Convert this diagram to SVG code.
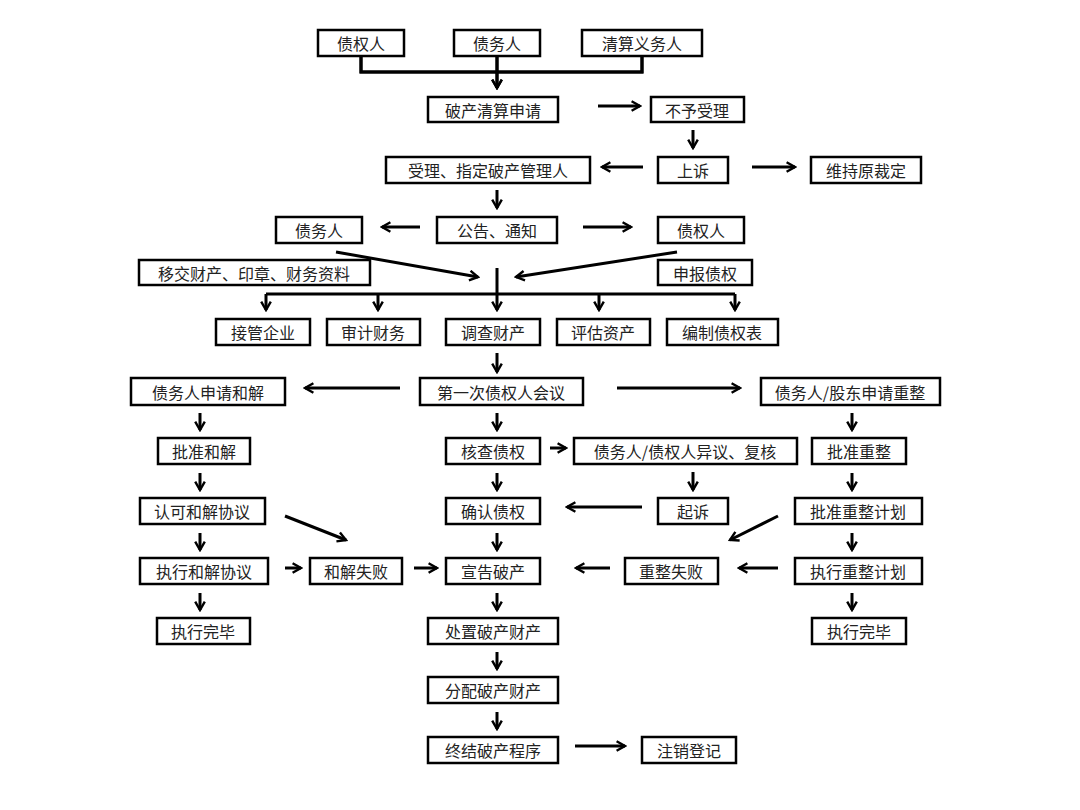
<svg xmlns="http://www.w3.org/2000/svg" width="1080" height="810" viewBox="0 0 1080 810">
<style>
.b rect{fill:#fff;stroke:#000;stroke-width:2.5}
.b text{font-family:"Noto Sans CJK SC",sans-serif;font-size:16px;fill:#222;text-anchor:middle;dominant-baseline:central}
#c path{fill:none;stroke:#000;stroke-width:3}
#c .a{marker-end:url(#m)}
</style>
<defs>
<marker id="m" viewBox="0 0 10 10" refX="8" refY="5" markerWidth="4" markerHeight="4" orient="auto" markerUnits="strokeWidth">
<path d="M1,1 L8,5 L1,9" fill="none" stroke="#000" stroke-width="2"/>
</marker>
</defs>
<rect width="1080" height="810" fill="#fff"/>
<g id="c">
<path d="M361,56V72H642V56M497,56V88" class="a"/>
<path d="M361,56V72H642V56"/>
<path class="a" d="M497,56V88"/>
<path class="a" d="M598,106H640"/>
<path class="a" d="M693,130V148"/>
<path class="a" d="M643,167H602"/>
<path class="a" d="M752,167H795"/>
<path class="a" d="M497,190V208"/>
<path class="a" d="M420,227H382"/>
<path class="a" d="M583,227H631"/>
<path class="a" d="M336,252L478,277"/>
<path class="a" d="M677,252L516,277"/>
<path d="M497,268V294M266,294H735"/>
<path class="a" d="M266,294V310"/>
<path class="a" d="M378,294V310"/>
<path class="a" d="M497,294V310"/>
<path class="a" d="M599,294V310"/>
<path class="a" d="M735,294V310"/>
<path class="a" d="M497,353V372"/>
<path class="a" d="M400,388H305"/>
<path class="a" d="M617,388H740"/>
<path class="a" d="M200,413V430"/>
<path class="a" d="M200,473V490"/>
<path class="a" d="M200,533V550"/>
<path class="a" d="M200,593V610"/>
<path class="a" d="M497,413V430"/>
<path class="a" d="M497,473V490"/>
<path class="a" d="M497,533V550"/>
<path class="a" d="M497,593V610"/>
<path class="a" d="M497,652V669"/>
<path class="a" d="M497,712V729"/>
<path class="a" d="M852,413V430"/>
<path class="a" d="M852,473V490"/>
<path class="a" d="M852,533V550"/>
<path class="a" d="M852,593V610"/>
<path class="a" d="M550,448H566"/>
<path class="a" d="M693,472V490"/>
<path class="a" d="M642,507H567"/>
<path class="a" d="M285,568H301"/>
<path class="a" d="M285,516L346,540"/>
<path class="a" d="M414,568H437"/>
<path class="a" d="M778,516L730,540"/>
<path class="a" d="M778,568H739"/>
<path class="a" d="M610,568H576"/>
<path class="a" d="M575,746H625"/>
</g>
<g class="b">
<g id="n1"><rect x="318" y="30" width="86" height="26"/><text x="361" y="43">债权人</text></g>
<g id="n2"><rect x="454" y="30" width="86" height="26"/><text x="497" y="43">债务人</text></g>
<g id="n3"><rect x="582" y="30" width="120" height="26"/><text x="642" y="43">清算义务人</text></g>
<g id="n4"><rect x="428" y="97" width="130" height="25"/><text x="493" y="110">破产清算申请</text></g>
<g id="n5"><rect x="651" y="97" width="93" height="25"/><text x="697" y="110">不予受理</text></g>
<g id="n6"><rect x="386" y="157" width="204" height="26"/><text x="488" y="170">受理、指定破产管理人</text></g>
<g id="n7"><rect x="658" y="157" width="70" height="26"/><text x="693" y="170">上诉</text></g>
<g id="n8"><rect x="811" y="157" width="110" height="26"/><text x="866" y="170">维持原裁定</text></g>
<g id="n9"><rect x="437" y="217" width="120" height="26"/><text x="497" y="230">公告、通知</text></g>
<g id="n10"><rect x="276" y="217" width="86" height="26"/><text x="319" y="230">债务人</text></g>
<g id="n11"><rect x="658" y="217" width="86" height="26"/><text x="701" y="230">债权人</text></g>
<g id="n12"><rect x="139" y="260" width="231" height="25"/><text x="254" y="273">移交财产、印章、财务资料</text></g>
<g id="n13"><rect x="658" y="260" width="94" height="25"/><text x="705" y="273">申报债权</text></g>
<g id="n14"><rect x="216" y="319" width="94" height="26"/><text x="263" y="332">接管企业</text></g>
<g id="n15"><rect x="327" y="319" width="93" height="26"/><text x="373" y="332">审计财务</text></g>
<g id="n16"><rect x="446" y="319" width="94" height="26"/><text x="493" y="332">调查财产</text></g>
<g id="n17"><rect x="557" y="319" width="93" height="26"/><text x="603" y="332">评估资产</text></g>
<g id="n18"><rect x="667" y="319" width="111" height="26"/><text x="722" y="332">编制债权表</text></g>
<g id="n19"><rect x="420" y="378" width="163" height="27"/><text x="501" y="392">第一次债权人会议</text></g>
<g id="n20"><rect x="131" y="378" width="154" height="27"/><text x="208" y="392">债务人申请和解</text></g>
<g id="n21"><rect x="761" y="378" width="179" height="27"/><text x="850" y="392">债务人/股东申请重整</text></g>
<g id="n22"><rect x="158" y="438" width="92" height="26"/><text x="204" y="451">批准和解</text></g>
<g id="n23"><rect x="140" y="498" width="125" height="26"/><text x="202" y="511">认可和解协议</text></g>
<g id="n24"><rect x="140" y="558" width="128" height="26"/><text x="204" y="571">执行和解协议</text></g>
<g id="n25"><rect x="157" y="618" width="93" height="26"/><text x="203" y="631">执行完毕</text></g>
<g id="n26"><rect x="310" y="558" width="92" height="26"/><text x="356" y="571">和解失败</text></g>
<g id="n27"><rect x="446" y="438" width="94" height="26"/><text x="493" y="451">核查债权</text></g>
<g id="n28"><rect x="446" y="498" width="94" height="26"/><text x="493" y="511">确认债权</text></g>
<g id="n29"><rect x="446" y="558" width="94" height="26"/><text x="493" y="571">宣告破产</text></g>
<g id="n30"><rect x="428" y="618" width="130" height="26"/><text x="493" y="631">处置破产财产</text></g>
<g id="n31"><rect x="428" y="677" width="130" height="26"/><text x="493" y="690">分配破产财产</text></g>
<g id="n32"><rect x="428" y="737" width="130" height="26"/><text x="493" y="750">终结破产程序</text></g>
<g id="n33"><rect x="574" y="438" width="223" height="26"/><text x="685" y="451">债务人/债权人异议、复核</text></g>
<g id="n34"><rect x="658" y="498" width="70" height="26"/><text x="693" y="511">起诉</text></g>
<g id="n35"><rect x="812" y="438" width="94" height="26"/><text x="859" y="451">批准重整</text></g>
<g id="n36"><rect x="795" y="498" width="127" height="26"/><text x="858" y="511">批准重整计划</text></g>
<g id="n37"><rect x="795" y="558" width="127" height="26"/><text x="858" y="571">执行重整计划</text></g>
<g id="n38"><rect x="812" y="618" width="94" height="26"/><text x="859" y="631">执行完毕</text></g>
<g id="n39"><rect x="625" y="558" width="93" height="26"/><text x="671" y="571">重整失败</text></g>
<g id="n40"><rect x="642" y="737" width="94" height="26"/><text x="689" y="750">注销登记</text></g>
</g>
</svg>
